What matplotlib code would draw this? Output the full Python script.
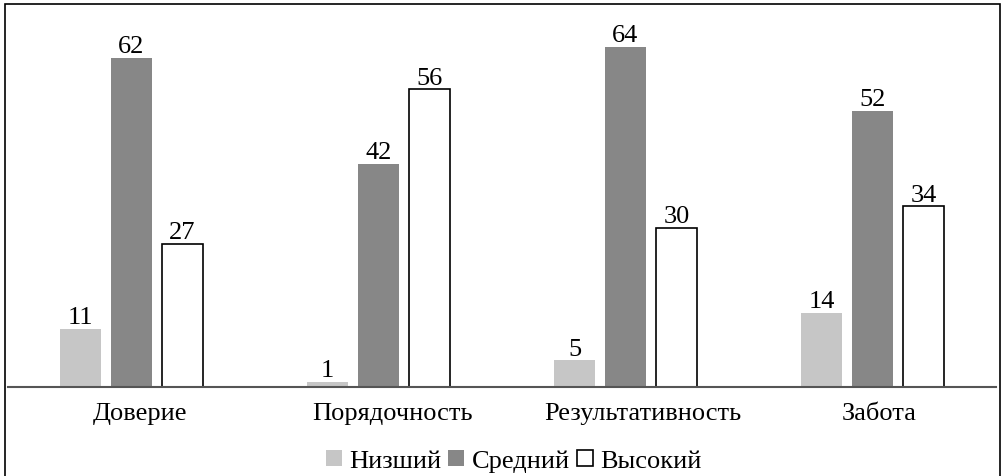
import matplotlib
matplotlib.use("Agg")
import matplotlib.pyplot as plt
import matplotlib.transforms as mtransforms
import numpy as np
from matplotlib.patches import Rectangle

categories = ["Доверие", "Порядочность", "Результативность", "Забота"]
series_names = ["Низший", "Средний", "Высокий"]
low = [11, 1, 5, 14]
mid = [62, 42, 64, 52]
high = [27, 56, 30, 34]

plt.rcParams['font.family'] = ['Liberation Serif', 'DejaVu Serif']

fig = plt.figure(figsize=(10.04, 4.77), dpi=100)
ax = fig.add_axes([8/1004, 89/477, 988/1004, 372/477])

x = np.arange(len(categories))
w = 0.166
off = 0.206
styles = [
    dict(color="#c6c6c6", edgecolor="none"),
    dict(color="#878787", edgecolor="none"),
    dict(color="white", edgecolor="black", linewidth=1.2),
]
for i, (vals, st) in enumerate(zip([low, mid, high], styles)):
    bars = ax.bar(x + (i - 1) * off, vals, w, label=series_names[i], **st)
    for b, v in zip(bars, vals):
        ax.text(b.get_x() + b.get_width() / 2, v + 0.1, str(v), ha="center", va="bottom", fontsize=19)

ax.set_xlim(-0.5, 3.5)
ax.set_ylim(0, 70)
for s in ["top", "right", "left"]:
    ax.spines[s].set_visible(False)
ax.spines["bottom"].set_color("#555555")
ax.spines["bottom"].set_linewidth(1.5)
ax.set_yticks([])
ax.set_xticks(x)
ax.set_xticklabels([])
ax.tick_params(axis="x", length=0)

# category labels (slightly right-shifted, as in the reference)
renderer = fig.canvas.get_renderer()
for xi, cat in zip(x, categories):
    t = ax.text(xi, 0, cat, transform=ax.get_xaxis_transform(), ha="center", va="top", fontsize=19)
    wpx = t.get_window_extent(renderer).width
    t.set_transform(mtransforms.offset_copy(ax.get_xaxis_transform(), fig=fig,
                                            x=0.09 * wpx, y=-15, units="dots"))

leg = fig.legend(loc="center", bbox_to_anchor=(514/1004, 1 - 462/477), ncol=3, frameon=False,
                 fontsize=19, handlelength=0.6, handleheight=0.6, handletextpad=0.3, columnspacing=0.25)

fig.patches.append(Rectangle((5/1004, -0.1), 995/1004, 1.1 - 5/477, transform=fig.transFigure,
                             fill=False, edgecolor="black", linewidth=1.2))

fig.savefig("out.png", dpi=100)
